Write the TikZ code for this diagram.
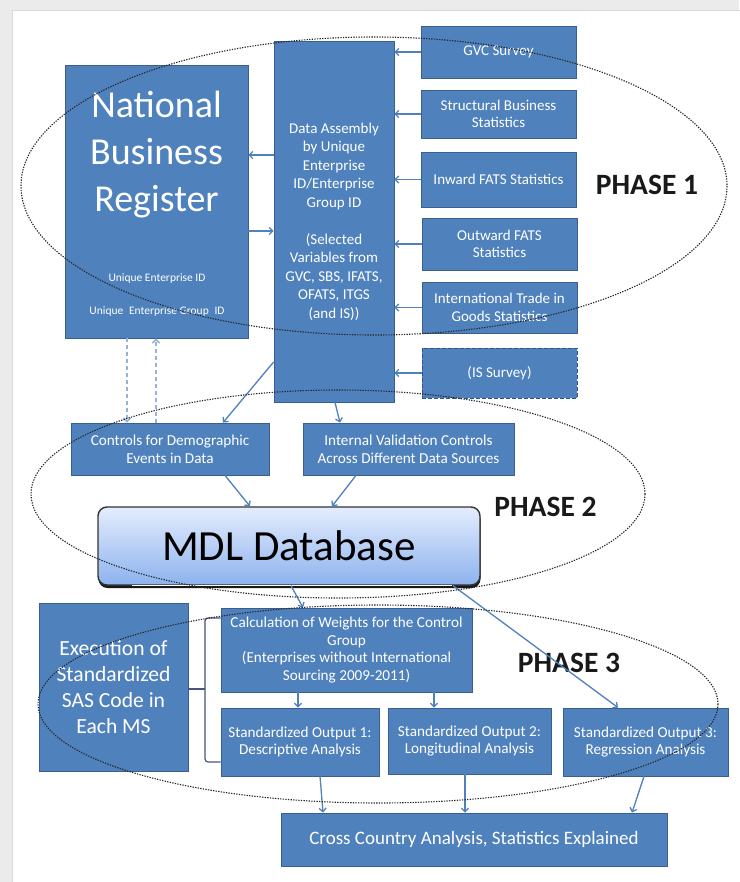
\documentclass[tikz,border=0pt]{standalone}
\usepackage{fontspec}
\setmainfont{Carlito}
\usetikzlibrary{arrows.meta,shadows}
\definecolor{boxblue}{HTML}{4F81BD}
\definecolor{boxedge}{HTML}{3A5F8E}
\definecolor{arrblue}{HTML}{4F81BD}
\definecolor{dashblue}{HTML}{95B3D7}
\definecolor{isedge}{HTML}{2F528F}
\definecolor{bracecol}{HTML}{46557F}
\definecolor{pagegray}{HTML}{EBEBEB}
\definecolor{mdltop}{HTML}{E4EDFD}
\definecolor{mdlbot}{HTML}{8DB2EE}
\tikzset{
  box/.style={draw=boxedge, line width=0.8pt, fill=boxblue, text=white, align=center, inner sep=0pt,
    font=\fontsize{15}{17.5}\selectfont},
  lowbox/.style={box, font=\fontsize{15.2}{17.7}\selectfont},
  lbl/.style={text=white, align=center, inner sep=0pt},
  arr/.style={draw=arrblue, line width=1.3pt, -{Straight Barb[length=3.5pt,width=7pt]}},
  darr/.style={draw=dashblue, line width=1.6pt, dash pattern=on 4pt off 3pt, -{Straight Barb[length=3.5pt,width=7pt]}},
  phase/.style={draw=black!85, line width=1.1pt, dash pattern=on 1.3pt off 1.3pt},
  phasetext/.style={font=\fontsize{29.5}{31}\selectfont\bfseries, text=black!90, inner sep=0pt},
  bracket/.style={draw=bracecol, line width=1.2pt, rounded corners=3pt},
}
\begin{document}
\begin{tikzpicture}[x=1pt,y=-1pt]
\useasboundingbox (0,0) rectangle (739,882);
\fill[pagegray] (0,0) rectangle (739,882);
\filldraw[fill=white, draw=black!15, line width=0.8pt] (12.5,10) rectangle (745,890);

% helper coordinates
\coordinate (y155) at (0,155);
\coordinate (y231) at (0,231);
\coordinate (y362) at (0,362);
\coordinate (y689) at (0,689);
\foreach \v in {127,156,223,225,250,291,298,303,320,323,332,335,340,356,434,453,465,618,632,644}
  {\coordinate (x\v) at (\v,0);}

% Phase 1 boxes
\node[box, minimum width=183pt, minimum height=273pt] (nbr) at (156.5,201.5) {};
\node[lbl, font=\fontsize{38}{47}\selectfont] (nbrt) at (156.5,155) {National\\Business\\Register};
\node[lbl, font=\fontsize{11.5}{14}\selectfont] (uid) at (157,278) {Unique Enterprise ID};
\node[lbl, font=\fontsize{11.5}{14}\selectfont] (ugid) at (157,311) {Unique\enspace Enterprise Group\enspace ID};

\node[box, font=\fontsize{15}{18.5}\selectfont, minimum width=120pt, minimum height=361pt] (da) at (334,221.5)
  {Data Assembly\\by Unique\\Enterprise\\ID/Enterprise\\Group ID\\[18.5pt](Selected\\Variables from\\GVC, SBS, IFATS,\\OFATS, ITGS\\(and IS))};

\node[box, minimum width=155pt, minimum height=52pt] (gvc) at (498.5,52) {GVC Survey};
\node[box, minimum width=155pt, minimum height=48pt] (sbs) at (498.5,114) {Structural Business\\Statistics};
\node[box, minimum width=155pt, minimum height=55pt] (ifats) at (498.5,179.5) {Inward FATS Statistics};
\node[box, minimum width=155pt, minimum height=52pt] (ofats) at (499.5,244) {Outward FATS\\Statistics};
\node[box, minimum width=155pt, minimum height=51pt] (itgs) at (499.5,307.5) {International Trade in\\Goods Statistics};
\node[box, draw=isedge, dash pattern=on 4pt off 2pt, minimum width=155pt, minimum height=50pt] (is) at (499.5,373) {(IS Survey)};

% Phase 2 boxes
\node[lowbox, minimum width=198pt, minimum height=52pt] (demo) at (170,449) {Controls for Demographic\\Events in Data};
\node[lowbox, minimum width=211pt, minimum height=52pt] (ivc) at (408.5,449) {Internal Validation Controls\\Across Different Data Sources};
\node[minimum width=382pt, minimum height=78pt, rounded corners=9pt, draw=black!80, line width=1.4pt,
  top color=mdltop, bottom color=mdlbot, text=black, font=\fontsize{43}{46}\selectfont,
  drop shadow={shadow xshift=0.5pt, shadow yshift=-3pt, fill=black, opacity=0.9}] (mdl) at (289,546) {MDL Database};
\draw[white, line width=1pt] (132,585.5) -- (452,585.5);

% Phase 3 boxes
\node[box, font=\fontsize{21.6}{26}\selectfont, minimum width=149pt, minimum height=168pt] (exec) at (113.5,687) {Execution of\\Standardized\\SAS Code in\\Each MS};
\node[lowbox, minimum width=251pt, minimum height=84pt] (calc) at (346.5,650)
  {Calculation of Weights for the Control\\Group\\(Enterprises without International\\Sourcing 2009-2011)};
\node[lowbox, minimum width=158pt, minimum height=68pt] (out1) at (300,742) {Standardized Output 1:\\Descriptive Analysis};
\node[lowbox, minimum width=163pt, minimum height=66pt] (out2) at (469.5,741) {Standardized Output 2:\\Longitudinal Analysis};
\node[lowbox, minimum width=165pt, minimum height=68pt] (out3) at (645.5,742) {Standardized Output 3:\\Regression Analysis};
\node[box, font=\fontsize{19}{22}\selectfont, minimum width=386pt, minimum height=53pt] (cross) at (474,839.5) {Cross Country Analysis, Statistics Explained};

% phase labels
\node[phasetext] (p1) at (647,185) {PHASE 1};
\node[phasetext] (p2) at (545.5,507) {PHASE 2};
\node[phasetext] (p3) at (569,663) {PHASE 3};

% bracket
\draw[bracket] (exec.east |- y689) -- (205,689);
\draw[bracket] (calc.west |- 0,618) -- (205,618) -- (205,689) -- (205,762) -- (out1.west |- 0,762);

% connectors
\draw[arr] (da.west |- y155) -- (nbr.east |- y155);
\draw[arr] (nbr.east |- y231) -- (da.west |- y231);
\draw[arr] (gvc.west) -- (gvc.west -| da.east);
\draw[arr] (sbs.west) -- (sbs.west -| da.east);
\draw[arr] (ifats.west) -- (ifats.west -| da.east);
\draw[arr] (ofats.west) -- (ofats.west -| da.east);
\draw[arr] (itgs.west) -- (itgs.west -| da.east);
\draw[arr] (is.west) -- (is.west -| da.east);
\draw[darr] (nbr.south -| x127) -- (demo.north -| x127);
\draw[darr] (demo.north -| x156) -- (nbr.south -| x156);
\draw[arr] (da.west |- y362) -- (demo.north -| x223);
\draw[arr] (da.south -| x335) -- (ivc.north -| x340);
\draw[arr] (demo.south -| x225) -- (mdl.north -| x250);
\draw[arr] (ivc.south -| x356) -- (mdl.north -| x332);
\draw[arr] (mdl.south -| x291) -- (calc.north -| x303);
\draw[arr] (mdl.south -| x453) -- (out3.north -| x618);
\draw[arr] (calc.south -| x298) -- (out1.north -| x298);
\draw[arr] (calc.south -| x434) -- (out2.north -| x434);
\draw[arr] (out1.south -| x320) -- (cross.north -| x323);
\draw[arr] (out2.south -| x465) -- (cross.north -| x465);
\draw[arr] (out3.south -| x644) -- (cross.north -| x632);

% phase ellipses
\draw[phase] (374,186) ellipse [x radius=353, y radius=149];
\draw[phase] (338,494) ellipse [x radius=307, y radius=104];
\draw[phase] (378,704) ellipse [x radius=340, y radius=99];
\end{tikzpicture}
\end{document}
